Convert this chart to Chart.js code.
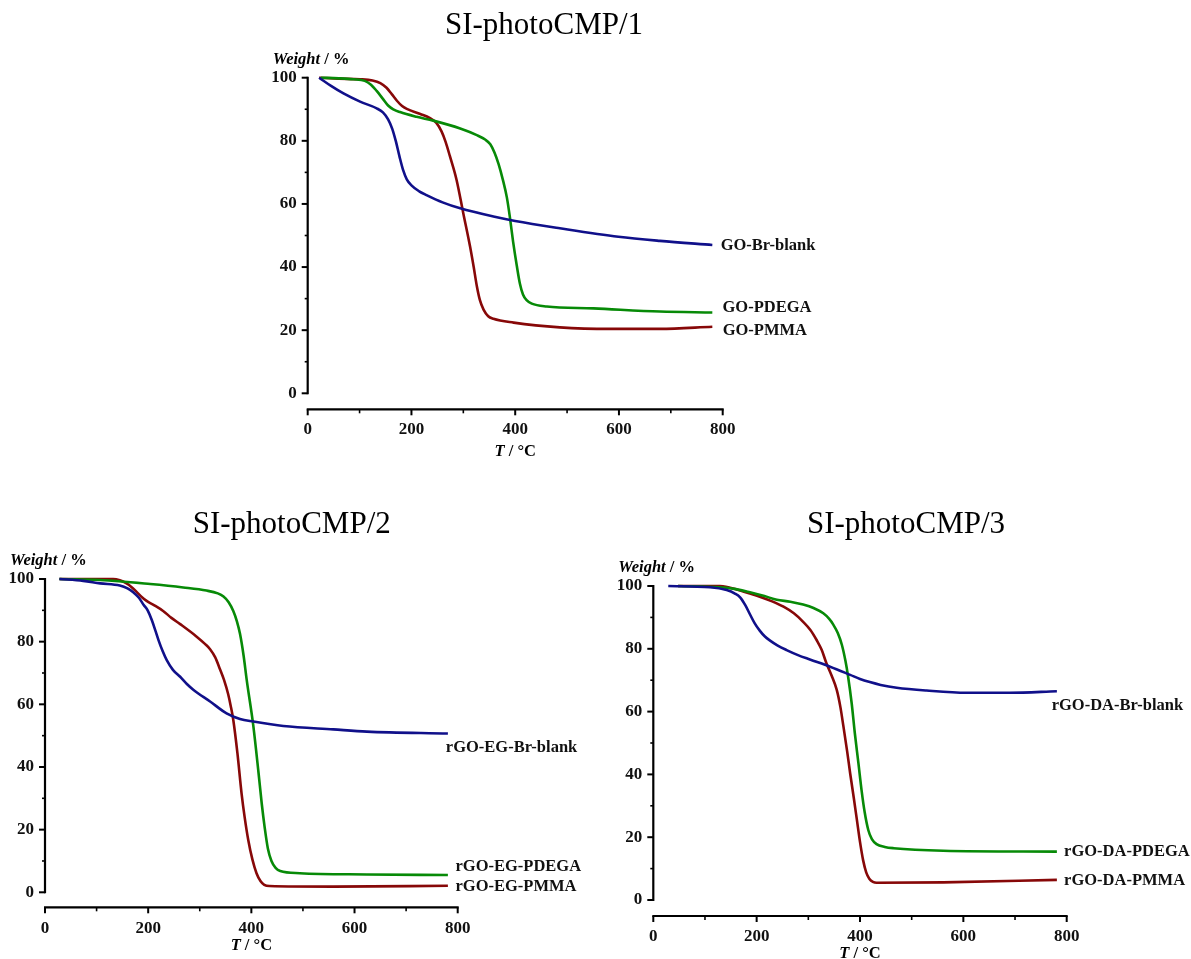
<!DOCTYPE html>
<html>
<head>
<meta charset="utf-8">
<script src="https://cdn.jsdelivr.net/npm/chart.js@4.4.1/dist/chart.umd.min.js"></script>
<style>
  html, body { margin: 0; padding: 0; background: #fff; }
  #page { position: relative; width: 1191px; height: 959px; overflow: hidden; }
  #page canvas { position: absolute; left: 0; top: 0; }
</style>
</head>
<body>
<div id="page">
  <canvas id="c1" width="1191" height="959"></canvas>
  <canvas id="c2" width="1191" height="959"></canvas>
  <canvas id="c3" width="1191" height="959"></canvas>
</div>
<script>
// tick labels
const xTicks = [0, 200, 400, 600, 800];
const yTicks = [0, 20, 40, 60, 80, 100];

// SI-photoCMP/1 (T in °C, weight in %)
const p1BlankT = [22, 45, 69, 101, 133, 145, 155, 163, 170, 177, 184, 191, 200, 215, 229, 260, 294, 358, 400, 486, 599, 679, 780];
const p1BlankW = [100, 97.4, 95.0, 92.4, 90.3, 89.0, 86.8, 83.8, 79.8, 75.0, 70.7, 67.8, 65.9, 64.0, 62.8, 60.5, 58.6, 56.0, 54.6, 52.3, 49.6, 48.3, 47.0];
const p1PdegaT = [25, 60, 88, 110, 122, 133, 145, 155, 165, 178, 210, 242, 294, 326, 342, 352, 360, 368, 376, 384, 390, 396, 403, 409, 415, 422, 432, 461, 551, 679, 780];
const p1PdegaW = [100, 99.8, 99.5, 99.0, 97.8, 95.8, 93.3, 91.2, 90.0, 89.1, 87.6, 86.4, 83.9, 81.8, 80.4, 78.9, 76.3, 72.6, 67.8, 62.0, 55.5, 48.0, 40.5, 34.8, 31.3, 29.5, 28.4, 27.5, 26.9, 25.9, 25.6];
const p1PmmaT = [22, 60, 101, 125, 140, 152, 162, 172, 182, 191, 217, 235, 248, 258, 266, 274, 287, 300, 313, 320, 326, 332, 339, 348, 358, 397, 486, 583, 679, 780];
const p1PmmaW = [100, 99.7, 99.5, 99.1, 98.3, 96.8, 94.8, 92.7, 91.0, 90.1, 88.5, 87.3, 85.7, 83.0, 79.6, 75.2, 67.6, 57.0, 46.5, 40.0, 34.0, 29.5, 26.5, 24.4, 23.6, 22.4, 20.9, 20.4, 20.4, 21.1];

// SI-photoCMP/2
const p2BlankT = [28, 74, 107, 145, 160, 171, 182, 191, 199, 207, 214, 220, 228, 236, 248, 262, 275, 288, 320, 352, 378, 404, 462, 559, 624, 781];
const p2BlankW = [100, 99.4, 98.6, 97.9, 97.0, 95.8, 94.0, 91.8, 90.0, 86.9, 83.5, 80.5, 77.0, 74.1, 71.0, 68.8, 66.5, 64.6, 60.9, 57.1, 55.3, 54.5, 53.1, 52.0, 51.3, 50.7];
const p2PdegaT = [28, 107, 204, 268, 313, 335, 346, 356, 365, 372, 378, 385, 391, 404, 414, 420, 426, 432, 439, 447, 456, 494, 624, 781];
const p2PdegaW = [100, 99.7, 98.4, 97.3, 96.3, 95.4, 94.4, 92.6, 89.8, 86.5, 82.5, 75.5, 67.8, 52.9, 38.0, 28.5, 20.5, 14.0, 10.0, 7.8, 6.8, 6.1, 5.7, 5.5];
const p2PmmaT = [28, 132, 145, 158, 168, 178, 188, 197, 212, 229, 245, 262, 294, 310, 320, 330, 339, 347, 355, 360, 365, 373, 381, 387, 394, 402, 410, 418, 425, 435, 559, 781];
const p2PmmaW = [100, 100, 99.6, 98.6, 97.4, 95.8, 94.2, 93.0, 91.6, 89.8, 87.6, 85.6, 81.6, 79.3, 77.6, 75.0, 71.3, 67.8, 63.3, 59.5, 55.0, 44.4, 31.6, 24.0, 16.7, 10.5, 6.1, 3.5, 2.4, 2.0, 1.8, 2.1];

// SI-photoCMP/3
const p3BlankT = [29, 110, 142, 158, 168, 178, 187, 196, 206, 216, 226, 240, 258, 280, 303, 342, 381, 400, 419, 440, 471, 529, 606, 690, 781];
const p3BlankW = [100, 99.6, 98.7, 97.6, 96.4, 93.9, 91.0, 88.2, 85.8, 83.9, 82.6, 81.1, 79.6, 78.0, 76.6, 74.3, 71.7, 70.4, 69.4, 68.5, 67.6, 66.7, 66.0, 66.0, 66.5];
const p3PdegaT = [48, 129, 160, 187, 215, 239, 265, 290, 310, 329, 340, 348, 357, 365, 372, 377, 384, 390, 397, 403, 409, 416, 423, 432, 448, 465, 561, 781];
const p3PdegaW = [100, 99.6, 99.0, 98.0, 96.8, 95.6, 95.0, 94.1, 93.0, 91.3, 89.6, 87.8, 85.0, 81.2, 76.0, 71.1, 62.5, 53.1, 43.5, 35.0, 28.0, 22.3, 19.4, 17.8, 16.9, 16.5, 15.7, 15.4];
const p3PmmaT = [48, 129, 145, 161, 185, 206, 230, 252, 272, 290, 304, 316, 326, 335, 345, 355, 362, 368, 375, 381, 388, 394, 400, 406, 412, 418, 425, 432, 561, 781];
const p3PmmaW = [100, 100, 99.6, 98.9, 97.7, 96.6, 95.1, 93.4, 91.3, 88.6, 86.0, 82.8, 79.6, 75.4, 71.5, 66.9, 61.5, 55.2, 47.5, 40.3, 32.5, 25.5, 18.5, 12.7, 8.8, 6.8, 5.8, 5.5, 5.6, 6.4];

const BLUE = "#10108a";
const GREEN = "#078a07";
const RED = "#870808";
const SERIF = "'Liberation Serif', 'Times New Roman', serif";
const W = 1191, H = 959;

const pts = (ts, ws) => ts.map((t, i) => ({ x: t, y: ws[i] }));

// axes drawn Origin-style: y axis only over its range, x axis line pushed below
const panelDeco = {
    id: "panelDeco",
    afterDraw(chart, args, o) {
        const { ctx, chartArea: a, scales: { x, y } } = chart;
        ctx.save();
        ctx.strokeStyle = "#000";
        ctx.fillStyle = "#000";

        const yLo = y.getPixelForValue(yTicks[0]);
        const yHi = y.getPixelForValue(yTicks[yTicks.length - 1]);
        ctx.lineWidth = 2.2;
        ctx.beginPath();
        ctx.moveTo(a.left, yLo + 1);
        ctx.lineTo(a.left, yHi - 1);
        ctx.stroke();
        for (let i = 0; i < yTicks.length; i++) {
            const py = y.getPixelForValue(yTicks[i]);
            ctx.lineWidth = 2;
            ctx.beginPath();
            ctx.moveTo(a.left, py);
            ctx.lineTo(a.left - 6, py);
            ctx.stroke();
            if (i < yTicks.length - 1) {
                const pm = y.getPixelForValue((yTicks[i] + yTicks[i + 1]) / 2);
                ctx.lineWidth = 1.6;
                ctx.beginPath();
                ctx.moveTo(a.left, pm);
                ctx.lineTo(a.left - 3, pm);
                ctx.stroke();
            }
        }

        const axY = a.bottom + o.gap;
        const xLo = x.getPixelForValue(xTicks[0]);
        const xHi = x.getPixelForValue(xTicks[xTicks.length - 1]);
        ctx.lineWidth = 2.2;
        ctx.beginPath();
        ctx.moveTo(xLo - 1, axY);
        ctx.lineTo(xHi + 1, axY);
        ctx.stroke();
        for (let i = 0; i < xTicks.length; i++) {
            const px = x.getPixelForValue(xTicks[i]);
            ctx.lineWidth = 2;
            ctx.beginPath();
            ctx.moveTo(px, axY);
            ctx.lineTo(px, axY + 6);
            ctx.stroke();
            if (i < xTicks.length - 1) {
                const pm = x.getPixelForValue((xTicks[i] + xTicks[i + 1]) / 2);
                ctx.lineWidth = 1.6;
                ctx.beginPath();
                ctx.moveTo(pm, axY);
                ctx.lineTo(pm, axY + 4);
                ctx.stroke();
            }
        }

        // panel title
        ctx.font = `31px ${SERIF}`;
        ctx.textAlign = "center";
        ctx.textBaseline = "alphabetic";
        ctx.fillText(o.title, o.titleX, o.titleY);

        // axis titles, italic symbol + bold unit
        const mixed = (parts, left, base) => {
            let cx = left;
            parts.forEach(([txt, font]) => {
                ctx.font = font;
                ctx.textAlign = "left";
                ctx.fillText(txt, cx, base);
                cx += ctx.measureText(txt).width;
            });
        };
        const bi = `italic bold 16.5px ${SERIF}`;
        const b = `bold 16.5px ${SERIF}`;
        mixed([["Weight", bi], [" / %", b]], a.left - 35, a.top - 14);

        ctx.font = bi;
        const wT = ctx.measureText("T").width;
        ctx.font = b;
        const wU = ctx.measureText(" / \u00B0C").width;
        mixed([["T", bi], [" / \u00B0C", b]], (a.left + a.right) / 2 - (wT + wU) / 2, a.bottom + o.xTitleDy);

        // curve labels
        ctx.font = b;
        ctx.fillStyle = "#111";
        ctx.textAlign = "left";
        ctx.textBaseline = "middle";
        chart.data.datasets.forEach((ds, i) => {
            const at = o.labelAt[i];
            ctx.fillText(ds.label, x.getPixelForValue(at[0]), y.getPixelForValue(at[1]));
        });
        ctx.restore();
    }
};

function makePanel(id, area, deco, series) {
    const yW = 60, xH = 60;
    const datasets = series.map(s => ({
        label: s.label,
        data: pts(s.t, s.w),
        borderColor: s.color,
        borderWidth: 2.6,
        pointRadius: 0,
        cubicInterpolationMode: "monotone",
        clip: false
    }));
    return new Chart(document.getElementById(id).getContext("2d"), {
        type: "line",
        data: { datasets },
        plugins: [panelDeco],
        options: {
            responsive: false,
            animation: false,
            events: [],
            layout: {
                padding: {
                    left: area.left - yW,
                    right: W - area.right,
                    top: area.top,
                    bottom: H - area.bottom - xH
                }
            },
            plugins: {
                legend: { display: false },
                tooltip: { enabled: false },
                panelDeco: deco
            },
            scales: {
                x: {
                    type: "linear",
                    min: xTicks[0],
                    max: xTicks[xTicks.length - 1],
                    afterBuildTicks: s => { s.ticks = xTicks.map(v => ({ value: v })); },
                    afterFit: s => { s.height = xH; },
                    grid: { display: false, drawTicks: false },
                    border: { display: false },
                    ticks: {
                        padding: 26,
                        color: "#111",
                        autoSkip: false,
                        maxRotation: 0,
                        font: { family: SERIF, size: 17, weight: "bold" }
                    }
                },
                y: {
                    type: "linear",
                    min: yTicks[0],
                    max: yTicks[yTicks.length - 1],
                    afterBuildTicks: s => { s.ticks = yTicks.map(v => ({ value: v })); },
                    afterFit: s => { s.width = yW; },
                    grid: { display: false, drawTicks: false },
                    border: { display: false },
                    ticks: {
                        padding: 11,
                        color: "#111",
                        font: { family: SERIF, size: 17, weight: "bold" }
                    }
                }
            }
        }
    });
}

makePanel("c1",
    { left: 307.7, right: 722.7, top: 77.7, bottom: 393.3 },
    { title: "SI-photoCMP/1", titleX: 544, titleY: 34, gap: 16, xTitleDy: 62.7,
      labelAt: [[796, 46.7], [799.6, 27.0], [800, 19.7]] },
    [
        { label: "GO-Br-blank", t: p1BlankT, w: p1BlankW, color: BLUE },
        { label: "GO-PDEGA", t: p1PdegaT, w: p1PdegaW, color: GREEN },
        { label: "GO-PMMA", t: p1PmmaT, w: p1PmmaW, color: RED }
    ]);

makePanel("c2",
    { left: 45, right: 457.7, top: 579, bottom: 892.3 },
    { title: "SI-photoCMP/2", titleX: 291.7, titleY: 533, gap: 15, xTitleDy: 57.7,
      labelAt: [[777, 46], [795.7, 8.2], [795.7, 1.8]] },
    [
        { label: "rGO-EG-Br-blank", t: p2BlankT, w: p2BlankW, color: BLUE },
        { label: "rGO-EG-PDEGA", t: p2PdegaT, w: p2PdegaW, color: GREEN },
        { label: "rGO-EG-PMMA", t: p2PmmaT, w: p2PmmaW, color: RED }
    ]);

makePanel("c3",
    { left: 653.3, right: 1066.7, top: 586, bottom: 900 },
    { title: "SI-photoCMP/3", titleX: 906, titleY: 533, gap: 16, xTitleDy: 58,
      labelAt: [[771, 61.8], [795, 15.3], [795, 6.1]] },
    [
        { label: "rGO-DA-Br-blank", t: p3BlankT, w: p3BlankW, color: BLUE },
        { label: "rGO-DA-PDEGA", t: p3PdegaT, w: p3PdegaW, color: GREEN },
        { label: "rGO-DA-PMMA", t: p3PmmaT, w: p3PmmaW, color: RED }
    ]);
</script>
</body>
</html>
